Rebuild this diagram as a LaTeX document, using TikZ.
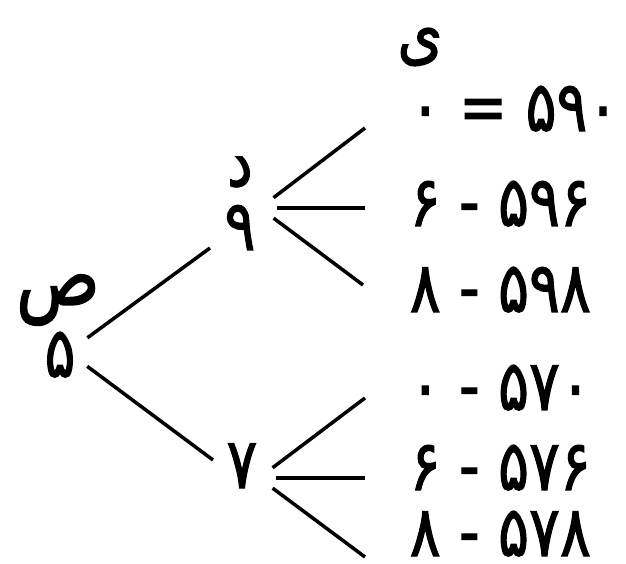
\documentclass[tikz,border=0pt]{standalone}
\usepackage{fontspec}
\TeXXeTstate=1
\newfontfamily\fafont[Script=Arabic, FakeStretch=0.82, FakeBold=1.5]{DejaVu Sans}

\begin{document}
\begin{tikzpicture}[x=0.02cm, y=-0.02cm, line width=2pt,
        every node/.style={font=\fafont\fontsize{40}{46}\selectfont, inner sep=0pt},
        digit/.style={anchor=base},
        row/.style={anchor=base west, text height=0.75em, text depth=0pt},
        fan/.style={shorten <=0.34cm}]
    \useasboundingbox (0, 0) rectangle (626, 564);

    \node (S) at (58, 300) {\fontsize{48}{52}\selectfont\beginR ص\endR};
    \node (D) at (240, 172) {\beginR د\endR};
    \node (Y) at (420, 47) {\beginR ی\endR};

    \node (n5) at (60, 377) [digit]{۵};
    \node (n9) at (240, 250) [digit]{۹};
    \node (n7) at (242, 488) [digit]{۷};

    \node (r1) at (408, 131) [row]{\beginR ۵۹۰ = ۰\endR};
    \node (r2) at (408, 226) [row]{\beginR ۵۹۶ - ۶\endR};
    \node (r3) at (408, 312) [row]{\beginR ۵۹۸ - ۸\endR};
    \node (r4) at (408, 410) [row]{\beginR ۵۷۰ - ۰\endR};
    \node (r5) at (408, 490) [row]{\beginR ۵۷۶ - ۶\endR};
    \node (r6) at (408, 556) [row]{\beginR ۵۷۸ - ۸\endR};

    \coordinate (h5) at (68, 352);
    \coordinate (h9) at (260, 208);
    \coordinate (h7) at (259, 478);

    \coordinate (e9) at (210, 248);
    \coordinate (e7) at (213, 460);
    \coordinate (e1) at (365, 128);
    \coordinate (e2) at (365, 208);
    \coordinate (e3) at (363, 285);
    \coordinate (e4) at (365, 398);
    \coordinate (e5) at (365, 478);
    \coordinate (e6) at (365, 557);

    \draw[shorten <=0.48cm] (h5) -- (e9);
    \draw[shorten <=0.48cm] (h5) -- (e7);
    \draw[fan] (h9) -- (e1);
    \draw[fan] (h9) -- (e2);
    \draw[fan] (h9) -- (e3);
    \draw[fan] (h7) -- (e4);
    \draw[fan] (h7) -- (e5);
    \draw[fan] (h7) -- (e6);
\end{tikzpicture}
\end{document}
